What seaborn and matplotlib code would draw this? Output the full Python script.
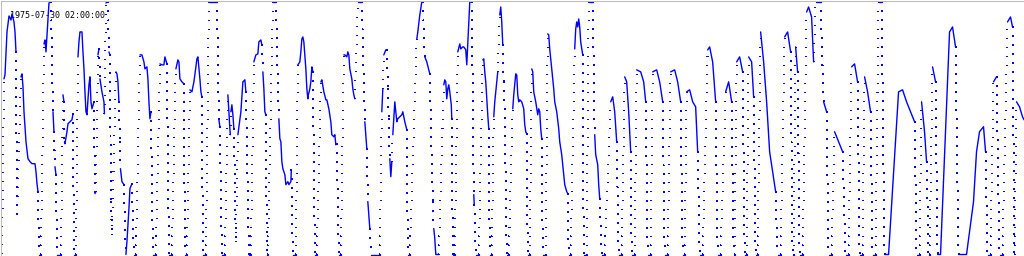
import numpy as np
import pandas as pd
import matplotlib
matplotlib.use("Agg")
import matplotlib.pyplot as plt
import seaborn as sns

start_label = "1975-07-30 02:00:00"

# time position (hours from start) and reading (axis drawn downward)
hours = [
    1, 3, 4, 6, 8, 10, 11, 13, 14, 15, 16, 20, 21, 22, 23, 25, 27, 29, 31, 34, 35, 36, 37, 38, 40,
    43, 44, 45, 48, 49, 50, 52, 53, 54, 55, 56, 60, 62, 63, 63.5, 64, 66, 67, 69, 71, 72, 73, 75,
    77, 78, 79, 81, 82, 83, 84, 85,
    86, 88, 89, 90, 91, 93, 94, 95, 97, 98, 99, 101, 103, 103.5, 105, 106, 107, 108, 109, 110, 111,
    115, 116, 117, 118, 119, 119.5, 121, 123, 125, 126, 128, 129, 131, 133, 135, 139, 141, 143, 144,
    146, 147, 148, 149, 150, 152, 155, 159, 161, 163, 164, 166, 168, 171,
    174, 175, 177, 178, 179, 181, 183, 184, 186, 189, 191, 193, 195, 196, 197, 199, 200, 201, 202,
    205, 208, 216, 218, 219, 221, 224, 227, 228, 229, 229.5, 230, 231, 232, 233, 235, 237, 240, 242,
    244, 245, 248, 250, 253, 255, 257,
    258, 260, 261, 262, 263, 264, 265, 266, 267, 272, 275, 278, 279, 280, 281, 282, 284, 285, 287,
    288, 290, 290.5, 292, 295, 297, 299, 300, 301, 302, 303, 305, 306, 307, 307.5, 309, 310, 311,
    312, 314, 316, 320, 321, 323, 325, 326, 328, 330, 331, 333, 334, 335, 336, 338, 340, 343,
    344, 346, 347, 348, 349, 351, 352, 353, 354, 357, 361, 364, 366, 367, 369, 370, 379, 381, 382,
    383, 385, 386, 387, 388, 389, 390, 391, 392, 394, 395, 396, 397, 399, 401, 402, 404, 406, 407,
    409, 415, 416, 417, 419, 421, 422, 424, 426, 429,
    432, 433, 434, 435, 438, 443, 444, 445, 446, 447, 448, 449, 450.5, 451, 452, 454, 457, 459, 460,
    462, 463, 465, 466, 469, 471, 473, 473.5, 475, 478, 482, 483, 484, 485, 487, 488, 489, 491, 493,
    494, 496, 497, 498, 499, 500, 501, 502, 503, 504, 506, 508, 512, 513, 515,
    516, 517, 518, 519, 521, 523, 524, 525, 526, 527, 529, 531, 532, 533, 535, 537, 538, 539, 540,
    541, 542, 545, 547, 548, 549, 551, 553, 554, 556, 558, 559, 561, 563, 564, 566, 567, 568, 570,
    574, 575, 576, 577, 578, 579, 580, 582, 583, 586, 588, 592, 594, 595, 597, 598, 599, 601, 604,
    610, 612, 614, 616, 618, 621, 624, 626, 628, 630, 631, 634, 636, 640, 643, 645, 647, 650, 652,
    656, 659, 662, 664, 667, 670, 674, 677, 680, 682, 684, 686, 689, 692, 695, 697, 699, 702, 707,
    709, 712, 715, 717, 720, 725, 728, 731, 733, 734, 736, 739, 742, 744, 746, 748, 751, 753, 755,
    757, 760, 763, 766, 769, 772, 775, 777, 780, 784, 787, 790, 792, 793, 795, 797, 799, 802, 806,
    808, 811, 813, 815, 820, 823, 826, 828, 831, 834, 838, 842, 845, 848, 851, 854, 857, 859, 862,
    864, 867, 870, 872, 875, 878, 881, 884, 888, 898, 902, 906, 910, 914, 916, 919, 921, 924, 926,
    928, 929, 932, 935, 937, 940, 949, 952, 955, 958, 966, 973, 976, 979, 983, 985, 987, 990, 993,
    996, 999, 1002, 1007, 1010, 1012, 1014, 1016, 1019, 1022, 1023.5,
]
depth = [
    252, 77, 73, 30, 14, 18, 12, 20, 30, 50, 213, 75, 72, 85, 110, 140, 157, 160, 162, 162, 170, 182, 190, 253, 253,
    42, 38, 50, 1, 0, 0, 110, 130, 165, 173, 253, 253, 93, 100, 140, 142, 130, 122, 120, 118, 112, 253, 253,
    55, 40, 30, 30, 50, 67, 90, 110,
    113, 83, 75, 100, 107, 100, 192, 190, 53, 47, 77, 90, 100, 112, 1, 0, 0, 50, 53, 200, 233,
    70, 72, 80, 100, 140, 167, 180, 183, 253, 240, 207, 187, 182, 253, 253, 53, 53, 60, 67,
    65, 77, 100, 117, 110, 253, 253, 62, 63, 63, 55, 62, 253, 253,
    100, 67, 58, 60, 77, 80, 82, 253, 253, 88, 90, 80, 65, 57, 55, 77, 90, 95, 253,
    253, 0, 0, 118, 125, 253, 253, 93, 110, 127, 133, 110, 103, 113, 127, 240, 133, 110, 80,
    78, 90, 253, 253, 60, 53, 52,
    40, 38, 43, 70, 87, 110, 113, 253, 253, 0, 0, 117, 137, 140, 160, 167, 173, 183, 180,
    183, 180, 168, 253, 253, 63, 60, 50, 37, 35, 40, 67, 87, 97, 93, 87, 80, 65,
    70, 253, 253, 80, 78, 90, 98, 98, 107, 120, 133, 135, 133, 143, 142, 253, 253, 53,
    53, 55, 50, 53, 67, 77, 87, 93, 97, 0, 0, 120, 147, 200, 227, 253, 253, 110, 87,
    53, 48, 48, 87, 117, 157, 175, 160, 133, 100, 110, 120, 117, 115, 113, 110, 120, 128, 253,
    253, 65, 37, 30, 13, 0, 0, 55, 60, 72,
    200, 227, 237, 253, 253, 83, 78, 80, 97, 87, 83, 90, 103, 117, 253, 253, 50, 42, 47,
    45, 45, 48, 63, 0, 0, 193, 203, 253, 253, 58, 57, 70, 80, 113, 127, 253, 253, 115,
    100, 80, 70, 43, 13, 5, 20, 43, 80, 107, 253, 253, 107, 93, 72,
    73, 93, 100, 98, 100, 107, 123, 130, 132, 253, 253, 67, 70, 90, 100, 113, 107, 110, 127,
    137, 253, 253, 32, 33, 47, 67, 87, 100, 110, 127, 140, 153, 173, 183, 190, 192, 253, 253,
    47, 27, 20, 25, 17, 25, 40, 53, 253, 253, 0, 0, 133, 153, 163, 183, 197, 253, 253,
    100, 95, 110, 140, 253, 253, 75, 80, 110, 150, 253, 253, 68, 70, 80, 100, 253, 253, 70,
    68, 80, 100, 253, 253, 70, 68, 80, 100, 253, 253, 90, 88, 100, 105, 150, 253, 253, 48,
    45, 60, 100, 253, 253, 90, 80, 100, 253, 253, 60, 55, 70, 253, 253, 55, 60, 95, 253,
    253, 30, 60, 100, 150, 170, 190, 253, 253, 35, 30, 50, 253, 253, 45, 70, 253, 253, 10,
    5, 15, 60, 0, 0, 100, 110, 253, 253, 130, 140, 150, 253, 253, 65, 62, 80, 253, 253,
    75, 90, 110, 253, 253, 0, 0, 253, 253, 90, 88, 100, 110, 120, 253, 253, 100, 130, 160,
    253, 253, 65, 80, 253, 253, 30, 25, 45, 253, 253, 200, 150, 130, 125, 150, 253, 253, 80,
    75, 253, 253, 20, 15, 25, 253, 100, 105, 115, 118,
]

sns.set_theme(style="white")
plt.rcParams['font.family'] = ['DejaVu Sans Mono', 'DejaVu Sans']

df = pd.DataFrame({"hour": hours, "depth": depth})

# split into slowly varying runs (solid) and fast jumps (dotted)
solid_rows, dot_rows = [], []
run_id, jump_id = 0, 0
cur = [0]
h = df["hour"].to_numpy()
d = df["depth"].to_numpy()
for i in range(len(df) - 1):
    rate = abs(d[i + 1] - d[i]) / (h[i + 1] - h[i])
    if rate > 25 and abs(d[i + 1] - d[i]) > 20:
        if len(cur) > 1:
            solid_rows += [(h[j], d[j], run_id) for j in cur]
            run_id += 1
        dot_rows += [(h[i], d[i], jump_id), (h[i + 1], d[i + 1], jump_id)]
        jump_id += 1
        cur = [i + 1]
    else:
        cur.append(i + 1)
if len(cur) > 1:
    solid_rows += [(h[j], d[j], run_id) for j in cur]
solid = pd.DataFrame(solid_rows, columns=["hour", "depth", "unit"])
dots = pd.DataFrame(dot_rows, columns=["hour", "depth", "unit"])

fig = plt.figure(figsize=(10.24, 2.56), dpi=100)
ax = fig.add_axes([0.5 / 1024, 0, 1 - 0.5 / 1024, 1 - 0.5 / 256])

sns.lineplot(data=dots, x="hour", y="depth", units="unit", estimator=None, sort=False,
             color="#0000ff", lw=0.68, linestyle=(0, (1, 9)), antialiased=False,
             legend=False, ax=ax)
sns.lineplot(data=solid, x="hour", y="depth", units="unit", estimator=None, sort=False,
             color="#0000ff", lw=1.0, legend=False, ax=ax)

ax.set_xlim(-0.5, 1023.5)
ax.set_ylim(254.5, -1.5)
ax.set_xticks([])
ax.set_yticks([])
ax.set_xlabel("")
ax.set_ylabel("")
for side in ["right", "bottom"]:
    ax.spines[side].set_visible(False)
for side in ["top", "left"]:
    ax.spines[side].set_visible(True)
    ax.spines[side].set_color("#bdbdbd")
    ax.spines[side].set_linewidth(0.75)

ax.text(9.5 / 1024, 1 - 17.5 / 256, start_label, transform=fig.transFigure,
        fontsize=6.0, family=['DejaVu Sans Mono'], color="black",
        ha="left", va="baseline", zorder=1)

fig.savefig("out.png", dpi=100)
